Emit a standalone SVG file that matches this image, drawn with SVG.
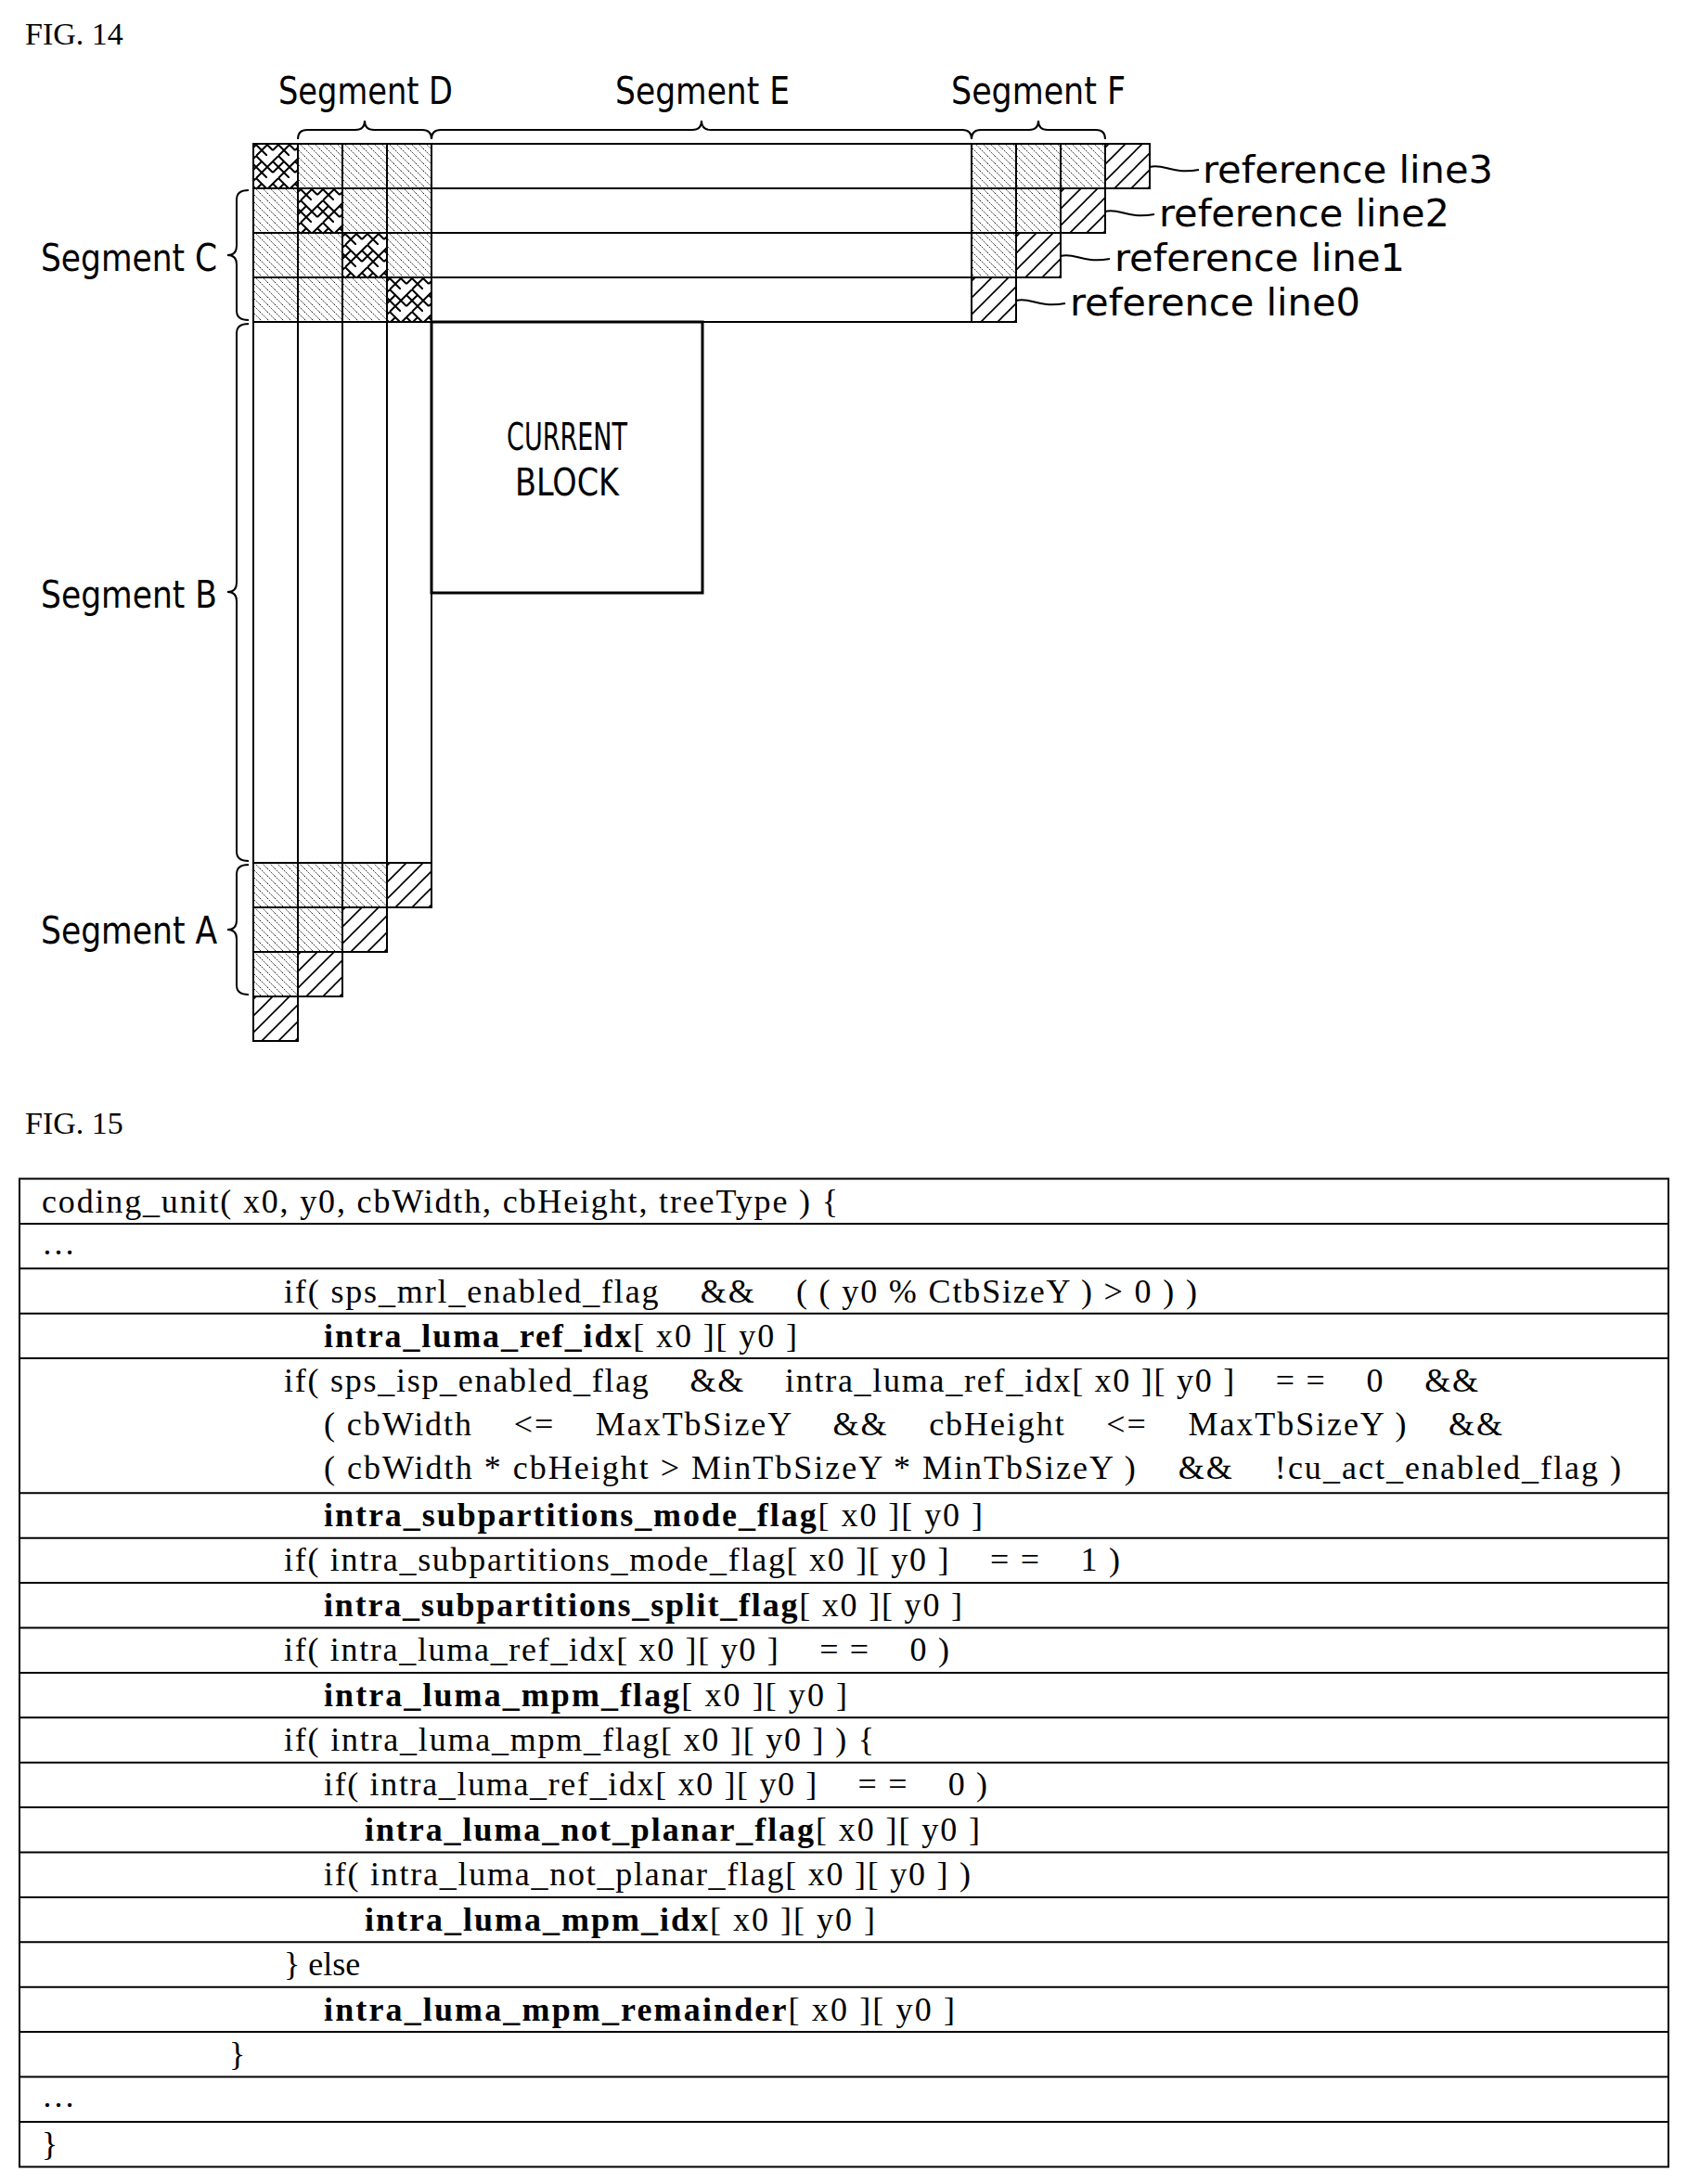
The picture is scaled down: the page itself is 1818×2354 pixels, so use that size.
<svg xmlns="http://www.w3.org/2000/svg" width="1818" height="2354" viewBox="0 0 1818 2354">
<style>
.fig{font-family:"Liberation Serif",serif;font-size:34px}
.lbl{font-family:"DejaVu Sans Condensed","DejaVu Sans",sans-serif;font-size:40px}
.code{font-family:"Liberation Serif",serif;font-size:36px;white-space:pre}
.b{font-weight:bold}
.cell{stroke:#000;stroke-width:2}
.ln{fill:none;stroke:#000;stroke-width:2}
.tl{stroke:#000;stroke-width:2}
</style>
<defs>
<pattern id="dot" width="8" height="8" patternUnits="userSpaceOnUse">
<rect width="8" height="8" fill="#fff"/>
<path d="M-2,-2 L10,10 M-2,6 L2,10 M6,-2 L10,2" stroke="#000" stroke-width="1" stroke-dasharray="1.5,1.5"/>
</pattern>
<pattern id="wide" width="18" height="18" patternUnits="userSpaceOnUse">
<rect width="18" height="18" fill="#fff"/>
<path d="M0,18 L18,0 M-4,4 L4,-4 M14,22 L22,14" stroke="#000" stroke-width="1.6"/>
</pattern>
<pattern id="herr" width="24" height="24" patternUnits="userSpaceOnUse">
<rect width="24" height="24" fill="#fff"/>
<path d="M0,12 L12,0 M6,18 L18,6 M12,24 L24,12 M6,6 L12,12 M12,0 L18,6 M0,12 L6,18 M18,18 L24,24 M12,12 L18,18 M18,6 L24,12" stroke="#000" stroke-width="2"/>
</pattern>
</defs>
<rect width="1818" height="2354" fill="#fff"/>
<text class="fig" x="27" y="48">FIG. 14</text>
<g id="top-rows">
<rect class="cell" x="465" y="155" width="582" height="48" fill="#fff"/>
<rect class="cell" x="465" y="203" width="582" height="48" fill="#fff"/>
<rect class="cell" x="465" y="251" width="582" height="48" fill="#fff"/>
<rect class="cell" x="465" y="299" width="582" height="48" fill="#fff"/>
<rect class="cell" x="273" y="155" width="48" height="48" fill="url(#herr)"/>
<rect class="cell" x="321" y="155" width="48" height="48" fill="url(#dot)"/>
<rect class="cell" x="369" y="155" width="48" height="48" fill="url(#dot)"/>
<rect class="cell" x="417" y="155" width="48" height="48" fill="url(#dot)"/>
<rect class="cell" x="273" y="203" width="48" height="48" fill="url(#dot)"/>
<rect class="cell" x="321" y="203" width="48" height="48" fill="url(#herr)"/>
<rect class="cell" x="369" y="203" width="48" height="48" fill="url(#dot)"/>
<rect class="cell" x="417" y="203" width="48" height="48" fill="url(#dot)"/>
<rect class="cell" x="273" y="251" width="48" height="48" fill="url(#dot)"/>
<rect class="cell" x="321" y="251" width="48" height="48" fill="url(#dot)"/>
<rect class="cell" x="369" y="251" width="48" height="48" fill="url(#herr)"/>
<rect class="cell" x="417" y="251" width="48" height="48" fill="url(#dot)"/>
<rect class="cell" x="273" y="299" width="48" height="48" fill="url(#dot)"/>
<rect class="cell" x="321" y="299" width="48" height="48" fill="url(#dot)"/>
<rect class="cell" x="369" y="299" width="48" height="48" fill="url(#dot)"/>
<rect class="cell" x="417" y="299" width="48" height="48" fill="url(#herr)"/>
<rect class="cell" x="1047" y="155" width="48" height="48" fill="url(#dot)"/>
<rect class="cell" x="1095" y="155" width="48" height="48" fill="url(#dot)"/>
<rect class="cell" x="1143" y="155" width="48" height="48" fill="url(#dot)"/>
<rect class="cell" x="1191" y="155" width="48" height="48" fill="url(#wide)"/>
<rect class="cell" x="1047" y="203" width="48" height="48" fill="url(#dot)"/>
<rect class="cell" x="1095" y="203" width="48" height="48" fill="url(#dot)"/>
<rect class="cell" x="1143" y="203" width="48" height="48" fill="url(#wide)"/>
<rect class="cell" x="1047" y="251" width="48" height="48" fill="url(#dot)"/>
<rect class="cell" x="1095" y="251" width="48" height="48" fill="url(#wide)"/>
<rect class="cell" x="1047" y="299" width="48" height="48" fill="url(#wide)"/>
</g>
<g id="left-columns">
<rect class="cell" x="273" y="347" width="48" height="583" fill="#fff"/>
<rect class="cell" x="321" y="347" width="48" height="583" fill="#fff"/>
<rect class="cell" x="369" y="347" width="48" height="583" fill="#fff"/>
<rect class="cell" x="417" y="347" width="48" height="583" fill="#fff"/>
<rect class="cell" x="273" y="930" width="48" height="48" fill="url(#dot)"/>
<rect class="cell" x="321" y="930" width="48" height="48" fill="url(#dot)"/>
<rect class="cell" x="369" y="930" width="48" height="48" fill="url(#dot)"/>
<rect class="cell" x="417" y="930" width="48" height="48" fill="url(#wide)"/>
<rect class="cell" x="273" y="978" width="48" height="48" fill="url(#dot)"/>
<rect class="cell" x="321" y="978" width="48" height="48" fill="url(#dot)"/>
<rect class="cell" x="369" y="978" width="48" height="48" fill="url(#wide)"/>
<rect class="cell" x="273" y="1026" width="48" height="48" fill="url(#dot)"/>
<rect class="cell" x="321" y="1026" width="48" height="48" fill="url(#wide)"/>
<rect class="cell" x="273" y="1074" width="48" height="48" fill="url(#wide)"/>
</g>
<g id="current-block">
<rect x="465" y="347" width="292" height="292" fill="#fff" stroke="#000" stroke-width="3"/>
<text class="lbl" x="611" y="485" text-anchor="middle" textLength="130" lengthAdjust="spacingAndGlyphs">CURRENT</text>
<text class="lbl" x="611" y="534" text-anchor="middle" textLength="112" lengthAdjust="spacingAndGlyphs">BLOCK</text>
</g>
<g id="braces">
<path class="ln" d="M321,150 Q321,140 331,140 L383,140 Q393,140 393,130 Q393,140 403,140 L455,140 Q465,140 465,150"/>
<path class="ln" d="M465,150 Q465,140 475,140 L746,140 Q756,140 756,130 Q756,140 766,140 L1037,140 Q1047,140 1047,150"/>
<path class="ln" d="M1047,150 Q1047,140 1057,140 L1109,140 Q1119,140 1119,130 Q1119,140 1129,140 L1181,140 Q1191,140 1191,150"/>
<path class="ln" d="M268,205 Q255,205 255,215 L255,265 Q255,275 245,275 Q255,275 255,285 L255,335 Q255,345 268,345"/>
<path class="ln" d="M268,349 Q255,349 255,359 L255,628 Q255,638 245,638 Q255,638 255,648 L255,918 Q255,928 268,928"/>
<path class="ln" d="M268,932 Q255,932 255,942 L255,992 Q255,1002 245,1002 Q255,1002 255,1012 L255,1062 Q255,1072 268,1072"/>
<path class="ln" d="M1239,180 C1255,176 1262,188 1292,183"/>
<path class="ln" d="M1191,228 C1207,224 1214,236 1244,231"/>
<path class="ln" d="M1143,276 C1159,272 1166,284 1196,279"/>
<path class="ln" d="M1095,324 C1111,320 1118,332 1148,327"/>
</g>
<g id="labels">
<text class="lbl" x="300" y="112" textLength="188" lengthAdjust="spacingAndGlyphs">Segment D</text>
<text class="lbl" x="663" y="112" textLength="188" lengthAdjust="spacingAndGlyphs">Segment E</text>
<text class="lbl" x="1025" y="112" textLength="188" lengthAdjust="spacingAndGlyphs">Segment F</text>
<text class="lbl" x="44" y="292" textLength="190" lengthAdjust="spacingAndGlyphs">Segment C</text>
<text class="lbl" x="44" y="655" textLength="190" lengthAdjust="spacingAndGlyphs">Segment B</text>
<text class="lbl" x="44" y="1017" textLength="190" lengthAdjust="spacingAndGlyphs">Segment A</text>
<text class="lbl" x="1296" y="197" textLength="313" lengthAdjust="spacingAndGlyphs">reference line3</text>
<text class="lbl" x="1249" y="244" textLength="313" lengthAdjust="spacingAndGlyphs">reference line2</text>
<text class="lbl" x="1201" y="292" textLength="313" lengthAdjust="spacingAndGlyphs">reference line1</text>
<text class="lbl" x="1153" y="340" textLength="313" lengthAdjust="spacingAndGlyphs">reference line0</text>
</g>
<text class="fig" x="27" y="1222">FIG. 15</text>
<g id="table">
<rect x="21" y="1270.5" width="1777" height="1065" fill="none" stroke="#000" stroke-width="2"/>
<path class="tl" d="M21,1318.9H1798M21,1367.3H1798M21,1415.7H1798M21,1464.1H1798M21,1609.3H1798M21,1657.7H1798M21,1706.1H1798M21,1754.5H1798M21,1802.9H1798M21,1851.3H1798M21,1899.7H1798M21,1948.1H1798M21,1996.5H1798M21,2044.9H1798M21,2093.3H1798M21,2141.7H1798M21,2190.1H1798M21,2238.5H1798M21,2286.9H1798"/>
<text class="code" x="45" y="1307" textLength="858" lengthAdjust="spacing">coding_unit( x0, y0, cbWidth, cbHeight, treeType ) {</text>
<text class="code" x="45" y="1352">…</text>
<text class="code" x="306" y="1404" textLength="984" lengthAdjust="spacing">if( sps_mrl_enabled_flag    &amp;&amp;    ( ( y0 % CtbSizeY ) &gt; 0 ) )</text>
<text class="code" x="349" y="1452" textLength="510" lengthAdjust="spacing"><tspan class="b">intra_luma_ref_idx</tspan>[ x0 ][ y0 ]</text>
<text class="code" x="306" y="1500" textLength="1287" lengthAdjust="spacing">if( sps_isp_enabled_flag    &amp;&amp;    intra_luma_ref_idx[ x0 ][ y0 ]    = =    0    &amp;&amp;</text>
<text class="code" x="349" y="1547" textLength="1270" lengthAdjust="spacing">( cbWidth    &lt;=    MaxTbSizeY    &amp;&amp;    cbHeight    &lt;=    MaxTbSizeY )    &amp;&amp;</text>
<text class="code" x="349" y="1594" textLength="1398" lengthAdjust="spacing">( cbWidth * cbHeight &gt; MinTbSizeY * MinTbSizeY )    &amp;&amp;    !cu_act_enabled_flag )</text>
<text class="code" x="349" y="1645" textLength="710" lengthAdjust="spacing"><tspan class="b">intra_subpartitions_mode_flag</tspan>[ x0 ][ y0 ]</text>
<text class="code" x="306" y="1693" textLength="901" lengthAdjust="spacing">if( intra_subpartitions_mode_flag[ x0 ][ y0 ]    = =    1 )</text>
<text class="code" x="349" y="1742" textLength="688" lengthAdjust="spacing"><tspan class="b">intra_subpartitions_split_flag</tspan>[ x0 ][ y0 ]</text>
<text class="code" x="306" y="1790" textLength="717" lengthAdjust="spacing">if( intra_luma_ref_idx[ x0 ][ y0 ]    = =    0 )</text>
<text class="code" x="349" y="1839" textLength="564" lengthAdjust="spacing"><tspan class="b">intra_luma_mpm_flag</tspan>[ x0 ][ y0 ]</text>
<text class="code" x="306" y="1887" textLength="636" lengthAdjust="spacing">if( intra_luma_mpm_flag[ x0 ][ y0 ] ) {</text>
<text class="code" x="349" y="1935" textLength="715" lengthAdjust="spacing">if( intra_luma_ref_idx[ x0 ][ y0 ]    = =    0 )</text>
<text class="code" x="393" y="1984" textLength="663" lengthAdjust="spacing"><tspan class="b">intra_luma_not_planar_flag</tspan>[ x0 ][ y0 ]</text>
<text class="code" x="349" y="2032" textLength="697" lengthAdjust="spacing">if( intra_luma_not_planar_flag[ x0 ][ y0 ] )</text>
<text class="code" x="393" y="2081" textLength="550" lengthAdjust="spacing"><tspan class="b">intra_luma_mpm_idx</tspan>[ x0 ][ y0 ]</text>
<text class="code" x="306" y="2129">} else</text>
<text class="code" x="349" y="2178" textLength="680" lengthAdjust="spacing"><tspan class="b">intra_luma_mpm_remainder</tspan>[ x0 ][ y0 ]</text>
<text class="code" x="247" y="2226">}</text>
<text class="code" x="45" y="2271">…</text>
<text class="code" x="45" y="2323">}</text>
</g>
</svg>
